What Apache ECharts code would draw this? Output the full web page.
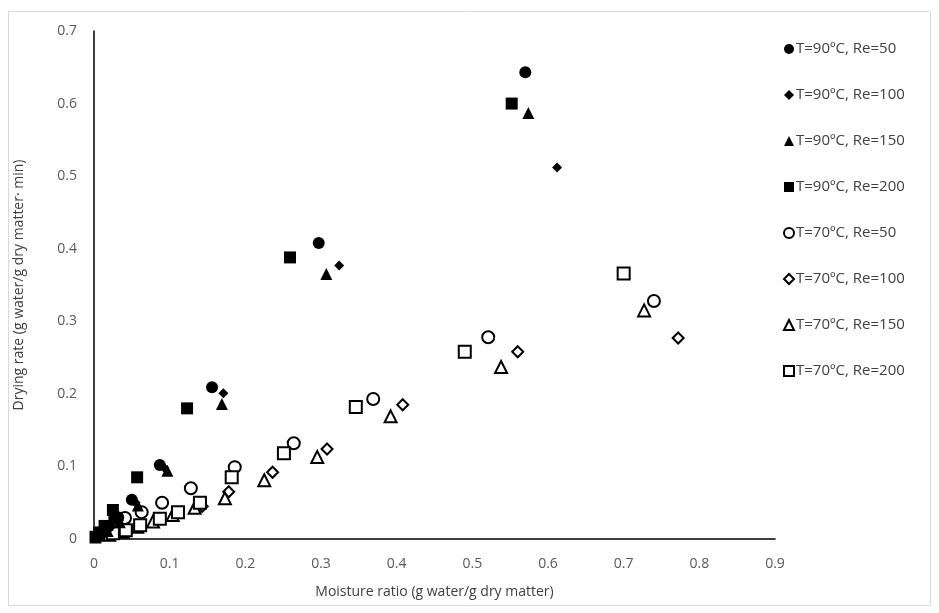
<!DOCTYPE html>
<html><head><meta charset="utf-8">
<script src="https://cdn.jsdelivr.net/npm/echarts@6/dist/echarts.min.js"></script>
<style>html,body{margin:0;padding:0;background:#fff}#c{width:939px;height:613px}</style>
</head><body><div id="c"></div>
<script>
var seriesNames = ['T=90ºC, Re=50','T=90ºC, Re=100','T=90ºC, Re=150','T=90ºC, Re=200',
                   'T=70ºC, Re=50','T=70ºC, Re=100','T=70ºC, Re=150','T=70ºC, Re=200'];
var xTickLabels = ['0','0.1','0.2','0.3','0.4','0.5','0.6','0.7','0.8','0.9'];
var yTickLabels = ['0','0.1','0.2','0.3','0.4','0.5','0.6','0.7'];

var t90re50  = [[0.570,0.643],[0.297,0.408],[0.156,0.209],[0.087,0.102],[0.050,0.054],[0.032,0.030],[0.020,0.018],[0.010,0.010],[0.003,0.004]];
var t90re100 = [[0.612,0.512],[0.324,0.377],[0.171,0.201],[0.093,0.098],[0.055,0.050],[0.033,0.026],[0.018,0.012],[0.008,0.006],[0.002,0.002]];
var t90re150 = [[0.574,0.587],[0.307,0.365],[0.169,0.186],[0.097,0.094],[0.058,0.046],[0.034,0.023],[0.018,0.011],[0.008,0.005],[0.002,0.002]];
var t90re200 = [[0.552,0.600],[0.259,0.388],[0.123,0.180],[0.057,0.085],[0.025,0.040],[0.027,0.028],[0.014,0.018],[0.007,0.009],[0.002,0.003]];
var t70re50  = [[0.740,0.328],[0.521,0.278],[0.369,0.193],[0.264,0.132],[0.186,0.099],[0.128,0.070],[0.090,0.050],[0.063,0.037],[0.041,0.029],[0.025,0.018],[0.012,0.010]];
var t70re100 = [[0.772,0.277],[0.560,0.258],[0.408,0.185],[0.308,0.124],[0.236,0.092],[0.178,0.065],[0.143,0.045],[0.110,0.036],[0.083,0.026],[0.057,0.017],[0.035,0.010],[0.018,0.006]];
var t70re150 = [[0.727,0.315],[0.538,0.237],[0.392,0.169],[0.295,0.113],[0.225,0.081],[0.173,0.056],[0.133,0.043],[0.104,0.033],[0.078,0.024],[0.057,0.017],[0.038,0.010],[0.020,0.006]];
var t70re200 = [[0.700,0.366],[0.490,0.258],[0.346,0.182],[0.251,0.118],[0.182,0.085],[0.140,0.050],[0.111,0.037],[0.087,0.028],[0.061,0.019],[0.042,0.012],[0.025,0.008]];

var allData = [t90re50,t90re100,t90re150,t90re200,t70re50,t70re100,t70re150,t70re200];
var symbols = ['circle','diamond','triangle','rect','circle','diamond','triangle','rect'];
var sizes = [12,10,12,12,12,11,12,12];

var FONT = 'Open Sans';
var chart = echarts.init(document.getElementById('c'));
var series = allData.map(function(d,i){
  var filled = i < 4;
  return {
    name: seriesNames[i], type:'scatter', data:d, symbol:symbols[i], symbolSize:sizes[i],
    itemStyle: filled ? {color:'#000', opacity:1} : {color:'#fff', borderColor:'#000', borderWidth:2, opacity:1},
    z: filled ? 10 + i : 2 + i
  };
});
chart.setOption({
  animation:false,
  backgroundColor:'#fff',
  graphic:[{type:'rect', shape:{x:8.5,y:11.5,width:922,height:594}, style:{fill:'none',stroke:'#d9d9d9',lineWidth:1}, silent:true, z:-1}],
  grid:{left:94, right:164, top:31, bottom:74},
  legend:{
    orient:'vertical', left:778, top:36, itemGap:30, itemWidth:10, itemHeight:10,
    textStyle:{fontFamily:FONT, fontSize:15, color:'#404040', lineHeight:16, padding:[0,0,0,-3]},
    data: seriesNames.map(function(n,i){
      var filled = i<4;
      return {name:n, icon:symbols[i],
        itemStyle: filled ? {color:'#000'} : {color:'#fff', borderColor:'#000', borderWidth:2}};
    })
  },
  xAxis:{
    type:'value', min:0, max:0.9, interval:0.1,
    name:'Moisture ratio (g water/g dry matter)', nameLocation:'middle', nameGap:46,
    nameTextStyle:{fontFamily:FONT, fontSize:14, color:'#404040'},
    axisLine:{show:true, lineStyle:{color:'#000', width:1.5}},
    axisTick:{show:false}, splitLine:{show:false},
    axisLabel:{fontFamily:FONT, fontSize:14, color:'#595959', margin:18,
      formatter:function(v){var k=Math.round(v*10);return xTickLabels[k];}}
  },
  yAxis:{
    type:'value', min:0, max:0.7, interval:0.1,
    name:'Drying rate (g water/g dry matter· min)', nameLocation:'middle', nameGap:68, nameRotate:90,
    nameTextStyle:{fontFamily:FONT, fontSize:14, color:'#404040'},
    axisLine:{show:true, onZero:false, lineStyle:{color:'#000', width:1.5}},
    axisTick:{show:false}, splitLine:{show:false},
    axisLabel:{fontFamily:FONT, fontSize:14, color:'#595959', margin:17,
      formatter:function(v){var k=Math.round(v*10);return yTickLabels[k];}}
  },
  series: series
});
</script></body></html>
